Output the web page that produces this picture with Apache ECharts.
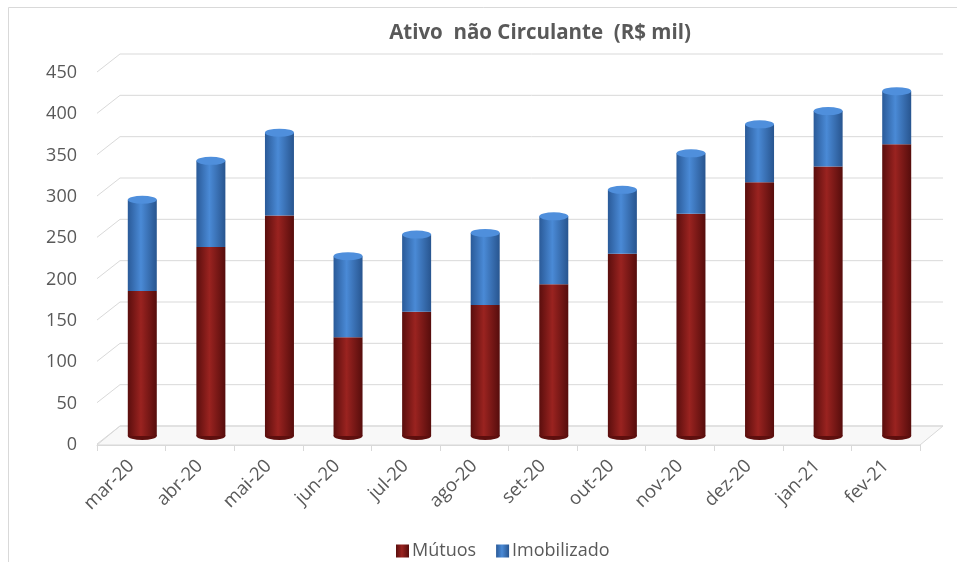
<!DOCTYPE html>
<html>
<head>
<meta charset="utf-8">
<script src="https://cdn.jsdelivr.net/npm/echarts@6/dist/echarts.min.js"></script>
<style>html,body{margin:0;padding:0;background:#fff}#c{width:957px;height:562px}</style>
</head>
<body>
<div id="c"></div>
<script>
var categories = ['mar-20','abr-20','mai-20','jun-20','jul-20','ago-20','set-20','out-20','nov-20','dez-20','jan-21','fev-21'];
var mutuos = [175, 228, 266, 119, 150, 158, 183, 220, 268, 306, 325, 352];
var imobilizado = [110, 104, 100, 98, 93, 87, 82, 77, 73, 70, 67, 64];
var yTicks = [0, 50, 100, 150, 200, 250, 300, 350, 400, 450];

var totals = mutuos.map(function (v, i) { return v + imobilizado[i]; });
var DX = 23, DY = -19;
var txt = '#595959';
var FONT = 'Open Sans';

var chart = echarts.init(document.getElementById('c'));
chart.setOption({
  backgroundColor: '#ffffff',
  animation: false,
  textStyle: { fontFamily: FONT },
  title: {
    text: 'Ativo  não Circulante  (R$ mil)',
    left: 535, top: 18, textAlign: 'center',
    textStyle: { fontFamily: FONT, fontWeight: 'bold', fontSize: 20.5, color: txt }
  },
  legend: {
    data: ['Mútuos', 'Imobilizado'],
    left: 391, top: 537, icon: 'rect', itemWidth: 13, itemHeight: 13, itemGap: 20,
    textStyle: { fontFamily: FONT, fontSize: 18, color: txt, padding: [0, 0, 0, -2] }
  },
  graphic: [{
    type: 'rect', shape: { x: 8.5, y: 7.5, width: 960, height: 570 },
    style: { fill: 'none', stroke: '#d9d9d9', lineWidth: 1 }, z: -10, silent: true
  }],
  grid: [
    { left: 108, right: 26, top: 63, bottom: 126 },
    { left: 97, right: 37, top: 73, bottom: 117 }
  ],
  xAxis: [
    { gridIndex: 0, type: 'category', data: categories, show: false },
    { gridIndex: 1, type: 'category', data: categories,
      axisLine: { lineStyle: { color: '#d9d9d9' } },
      axisTick: { show: true, length: 6, lineStyle: { color: '#d9d9d9' } },
      axisLabel: { rotate: 45, margin: 18, fontSize: 18.5, color: txt, fontFamily: FONT } }
  ],
  yAxis: [
    { gridIndex: 0, type: 'value', min: 0, max: 450, interval: 50, show: false },
    { gridIndex: 1, type: 'value', min: 0, max: 450, interval: 50,
      axisLine: { show: false }, axisTick: { show: false }, splitLine: { show: false },
      axisLabel: { margin: 20, fontSize: 18, color: txt, fontFamily: FONT } }
  ],
  series: [
    {
      type: 'custom', xAxisIndex: 1, yAxisIndex: 1, z: 0, silent: true, clip: false,
      data: yTicks.map(function (v) { return [0, v]; }),
      renderItem: function (params, api) {
        var v = api.value(1);
        var p = api.coord([0, v]);
        var band = api.size([1, 0])[0];
        var left = p[0] - band / 2;
        var right = left + band * categories.length;
        var y = p[1];
        var children = [];
        if (v === 0) {
          children.push({
            type: 'polygon',
            shape: { points: [[left, y], [right, y], [right + DX, y + DY], [left + DX, y + DY]] },
            style: { fill: '#f8f8f8', stroke: '#d9d9d9', lineWidth: 1 }
          });
        }
        children.push({
          type: 'polyline',
          shape: { points: [[left, y - 1], [left + DX, y + DY], [right + DX, y + DY]] },
          style: { fill: 'none', stroke: '#d9d9d9', lineWidth: 1 }
        });
        return { type: 'group', children: children };
      }
    },
    {
      name: 'Mútuos', type: 'bar', stack: 't', xAxisIndex: 0, yAxisIndex: 0,
      data: mutuos, barWidth: 29, z: 3,
      itemStyle: { color: new echarts.graphic.LinearGradient(0, 0, 1, 0, [
        { offset: 0, color: '#5a0e0d' }, { offset: 0.45, color: '#9a2320' }, { offset: 1, color: '#560d0c' }
      ]) }
    },
    {
      name: 'Imobilizado', type: 'bar', stack: 't', xAxisIndex: 0, yAxisIndex: 0,
      data: imobilizado, barWidth: 29, z: 3,
      itemStyle: { color: new echarts.graphic.LinearGradient(0, 0, 1, 0, [
        { offset: 0, color: '#2a5a98' }, { offset: 0.45, color: '#4a8ad6' }, { offset: 1, color: '#28558f' }
      ]) }
    },
    {
      type: 'pictorialBar', xAxisIndex: 0, yAxisIndex: 0, z: 2,
      data: mutuos, symbol: 'circle', symbolSize: [29, 8], symbolPosition: 'start',
      symbolOffset: [0, '50%'], itemStyle: { color: '#5e0f0e' }, silent: true
    },
    {
      type: 'pictorialBar', xAxisIndex: 0, yAxisIndex: 0, z: 4,
      data: totals, symbol: 'circle', symbolSize: [29, 8], symbolPosition: 'end',
      symbolOffset: [0, '-50%'], itemStyle: { color: '#4f8fdc' }, silent: true
    }
  ]
});
</script>
</body>
</html>
